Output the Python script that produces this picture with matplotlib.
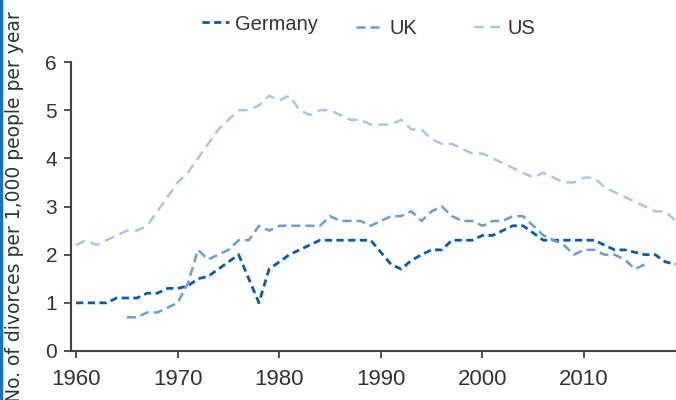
import matplotlib
matplotlib.use("Agg")
import matplotlib.pyplot as plt
from matplotlib.lines import Line2D

years_de = list(range(1960, 2020))
germany = [1.0, 1.0, 1.0, 1.0, 1.1, 1.1, 1.1, 1.2, 1.2, 1.3,
           1.3, 1.35, 1.5, 1.55, 1.7, 1.85, 2.0, 1.5, 1.0, 1.7,
           1.85, 2.0, 2.1, 2.2, 2.3, 2.3, 2.3, 2.3, 2.3, 2.3,
           2.05, 1.8, 1.7, 1.88, 2.0, 2.1, 2.1, 2.3, 2.3, 2.3,
           2.4, 2.4, 2.5, 2.6, 2.6, 2.45, 2.3, 2.3, 2.3, 2.3,
           2.3, 2.3, 2.2, 2.1, 2.1, 2.05, 2.0, 2.0, 1.85, 1.8]

years_uk = list(range(1965, 2017))
uk = [0.7, 0.7, 0.8, 0.8, 0.9, 1.0, 1.4, 2.1, 1.9, 2.0,
      2.1, 2.3, 2.3, 2.6, 2.5, 2.6, 2.6, 2.6, 2.6, 2.6,
      2.8, 2.7, 2.7, 2.7, 2.6, 2.7, 2.8, 2.8, 2.9, 2.7,
      2.9, 3.0, 2.8, 2.7, 2.7, 2.6, 2.7, 2.7, 2.8, 2.8,
      2.6, 2.4, 2.3, 2.2, 2.0, 2.1, 2.1, 2.0, 2.0, 1.9,
      1.7, 1.8]

years_us = list(range(1960, 2020))
us = [2.2, 2.3, 2.2, 2.3, 2.4, 2.5, 2.5, 2.6, 2.9, 3.2,
      3.5, 3.7, 4.0, 4.3, 4.6, 4.8, 5.0, 5.0, 5.1, 5.3,
      5.2, 5.3, 5.0, 4.9, 5.0, 5.0, 4.9, 4.8, 4.8, 4.7,
      4.7, 4.7, 4.8, 4.6, 4.6, 4.4, 4.3, 4.3, 4.2, 4.1,
      4.1, 4.0, 3.9, 3.8, 3.7, 3.6, 3.7, 3.6, 3.5, 3.5,
      3.6, 3.6, 3.4, 3.3, 3.2, 3.1, 3.0, 2.9, 2.9, 2.7]

xticks = [1960, 1970, 1980, 1990, 2000, 2010]
yticks = [0, 1, 2, 3, 4, 5, 6]

c_de = "#0a5cab"
c_uk = "#6a9fd6"
c_us = "#a2c5e8"
txt = "#333333"

plt.rcParams["font.family"] = ["Liberation Sans", "DejaVu Sans"]

fig = plt.figure(figsize=(6.76, 4.0), dpi=100)
ax = fig.add_axes([0.105, 0.1225, 0.895, 0.7225])

l_de, = ax.plot(years_de, germany, color=c_de, lw=2.0, dashes=(2.6, 1.6), label="Germany")
l_uk, = ax.plot(years_uk, uk, color=c_uk, lw=1.8, dashes=(3.6, 2.0), label="UK")
l_us, = ax.plot(years_us, us, color=c_us, lw=1.7, dashes=(4.2, 2.6), label="US")

ax.set_xlim(1959.5, 2019.05)
ax.set_ylim(0, 6)
ax.set_xticks(xticks)
ax.set_yticks(yticks)
ax.spines["top"].set_visible(False)
ax.spines["right"].set_visible(False)
for s in ["left", "bottom"]:
    ax.spines[s].set_color("#444444")
    ax.spines[s].set_linewidth(1.5)
ax.tick_params(colors="#444444", labelcolor=txt, length=5, width=1.3)
ax.tick_params(axis="x", labelsize=16, pad=8)
ax.tick_params(axis="y", labelsize=15, pad=5)

fig.text(0.021, 0.4825, "No. of divorces per 1,000 people per year", rotation=90,
         ha="center", va="center", fontsize=13.5, color=txt, family="DejaVu Sans")

# legend entries sit at slightly different heights, as in the original
entries = [(l_de, "Germany", 202, 24), (l_uk, "UK", 356, 29), (l_us, "US", 474, 29)]
for line, name, px, py in entries:
    leg = fig.legend(handles=[line], labels=[name], loc="center left",
                     bbox_to_anchor=(px / 676, 1 - py / 400), frameon=False,
                     borderpad=0, borderaxespad=0, handlelength=1.35,
                     handletextpad=0.3, fontsize=14.5)
    leg.get_texts()[0].set_color(txt)

fig.add_artist(Line2D([0.002, 0.002], [0, 1], color="#1f6fc0", lw=2.5))

fig.savefig("out.png", dpi=100)
